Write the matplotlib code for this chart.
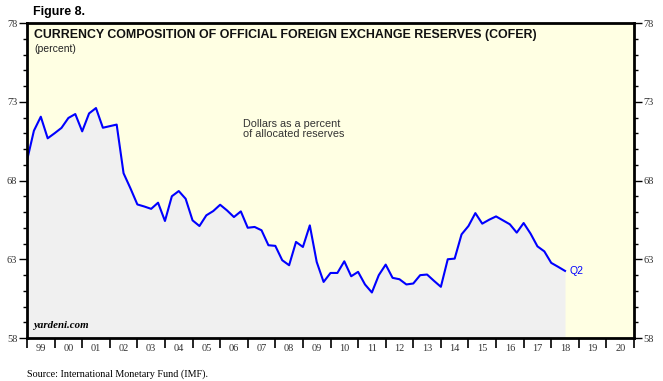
import matplotlib
matplotlib.use("Agg")
import matplotlib.pyplot as plt
import numpy as np
from matplotlib.ticker import FixedLocator, MultipleLocator

# Data: USD share of allocated reserves (quarterly), Q4 1998 .. Q2 2018
start_year = 1998
start_quarter = 4
usd_share = [
    69.27,
    71.16, 72.05, 70.68, 71.00,
    71.34, 71.97, 72.22, 71.12,
    72.26, 72.60, 71.35, 71.45,
    71.55, 68.46, 67.50, 66.48,
    66.35, 66.20, 66.59, 65.43,
    67.00, 67.33, 66.84, 65.47,
    65.11, 65.79, 66.06, 66.46,
    66.10, 65.68, 66.04, 65.00,
    65.05, 64.84, 63.89, 63.85,
    62.94, 62.62, 64.10, 63.78,
    65.15, 62.83, 61.56, 62.13,
    62.13, 62.87, 61.92, 62.20,
    61.40, 60.89, 61.99, 62.66,
    61.82, 61.73, 61.40, 61.46,
    61.99, 62.03, 61.63, 61.25,
    63.00, 63.04, 64.58, 65.11,
    65.93, 65.26, 65.51, 65.72,
    65.47, 65.22, 64.69, 65.30,
    64.63, 63.82, 63.50, 62.77,
    62.52, 62.26,
]
year_labels = ["99", "00", "01", "02", "03", "04", "05", "06", "07", "08",
               "09", "10", "11", "12", "13", "14", "15", "16", "17", "18",
               "19", "20"]
y_ticks = [58, 63, 68, 73, 78]

# positions at quarter ends
x = np.array([start_year + (start_quarter + i) / 4.0 for i in range(len(usd_share))])
y = np.array(usd_share)

fig = plt.figure(figsize=(6.63, 3.81), dpi=100)
fig.patch.set_facecolor("white")
L, R, T, B = 27, 634, 23, 338
W, H = 663, 381
ax = fig.add_axes([L / W, 1 - B / H, (R - L) / W, (B - T) / H])
ax.set_facecolor("#FFFFE3")

ax.fill_between(x, y, 58, color="#F0F0F0", zorder=1, linewidth=0)
ax.plot(x, y, color="#0000FF", linewidth=1.5, zorder=3)

ax.set_xlim(1999, 2021)
ax.set_ylim(58, 78)

serif = ["Liberation Serif", "DejaVu Serif"]
sans = ["Liberation Sans", "DejaVu Sans"]

# y axis
ax.yaxis.set_major_locator(FixedLocator(y_ticks))
ax.yaxis.set_minor_locator(MultipleLocator(1))
ax.tick_params(axis="y", which="major", direction="out", length=6, width=1,
               left=True, right=True, labelleft=True, labelright=True,
               labelsize=7.5, labelcolor="#333333", pad=1)
ax.tick_params(axis="y", which="minor", direction="out", length=3, width=1,
               left=True, right=True)
for lab in ax.get_yticklabels():
    lab.set_family(serif)

# x axis
ax.xaxis.set_major_locator(FixedLocator(np.arange(1999, 2022)))
ax.xaxis.set_minor_locator(FixedLocator(np.arange(1999, 2021) + 0.5))
ax.tick_params(axis="x", which="major", direction="out", length=7, width=1.2,
               labelbottom=False)
ax.tick_params(axis="x", which="minor", length=0, labelsize=7.5,
               labelcolor="#333333", pad=4)
ax.set_xticklabels(year_labels, minor=True, family=serif)

for s in ax.spines.values():
    s.set_linewidth(2)
    s.set_color("black")
    s.set_zorder(5)

# texts
fig.text(33 / W, 1 - 12 / H, "Figure 8.", fontsize=9, fontweight="bold",
         family=sans, va="center", ha="left")
ax.text(0.012, 0.962, "CURRENCY COMPOSITION OF OFFICIAL FOREIGN EXCHANGE RESERVES (COFER)",
        transform=ax.transAxes, fontsize=8.9, fontweight="bold", family=sans,
        va="center", ha="left", color="#111111")
ax.text(0.012, 0.917, "(percent)", transform=ax.transAxes, fontsize=7.5,
        family=sans, va="center", ha="left", color="#222222")
ax.text(2006.83, 71.3, "Dollars as a percent\nof allocated reserves",
        fontsize=7.8, family=sans, va="center", ha="left", color="#333333",
        linespacing=1.0)
ax.text(x[-1] + 0.15, y[-1], "Q2", fontsize=7.5, family=sans, color="#0000FF",
        va="center", ha="left")
ax.text(0.01, 0.025, "yardeni.com", transform=ax.transAxes, fontsize=7.8,
        family=serif, fontweight="bold", style="italic", va="bottom",
        ha="left", zorder=6)
fig.text(27 / W, 1 - 374 / H, "Source: International Monetary Fund (IMF).",
         fontsize=7.3, family=serif, va="center", ha="left")

fig.savefig("out.png", dpi=100)
